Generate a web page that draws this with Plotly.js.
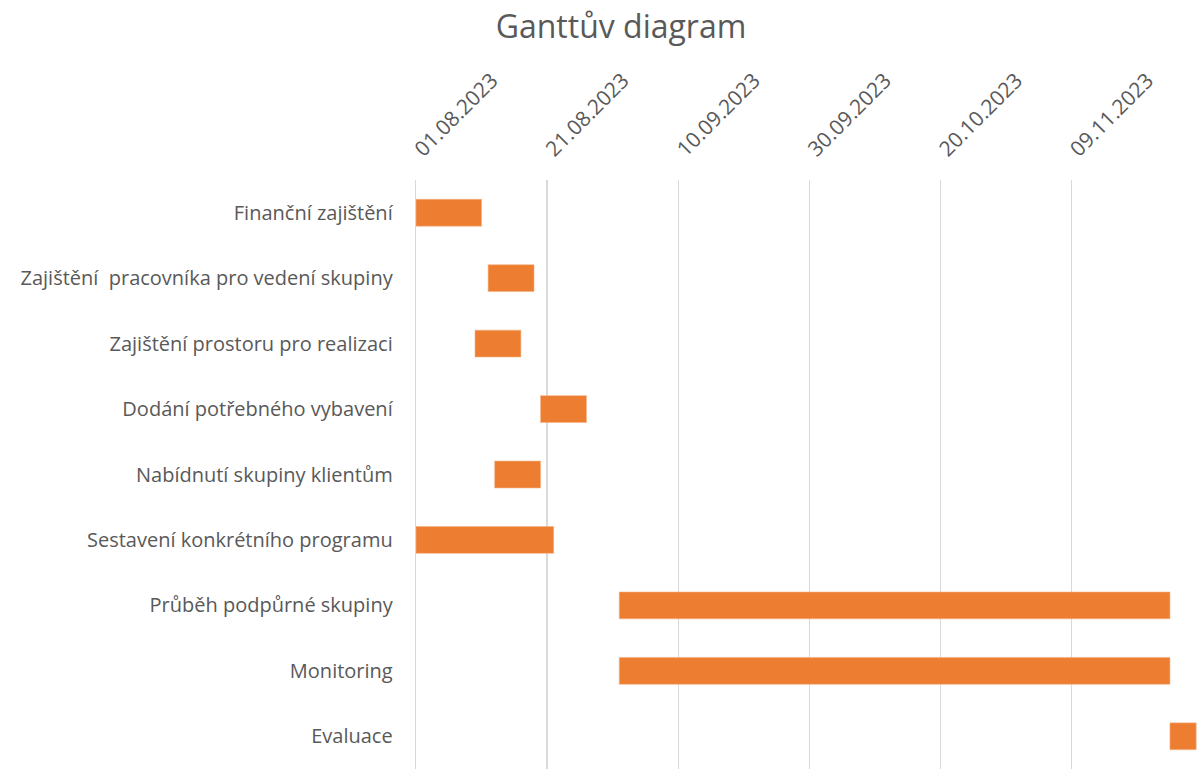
<!DOCTYPE html>
<html>
<head>
<meta charset="utf-8">
<script src="https://cdn.plot.ly/plotly-3.0.1.min.js"></script>
<style>html,body{margin:0;padding:0;background:#fff;}#chart{width:1200px;height:769px;}</style>
</head>
<body>
<div id="chart"></div>
<script>
const tasks = [
  "Finanční zajištění",
  "Zajištění  pracovníka pro vedení skupiny",
  "Zajištění prostoru pro realizaci",
  "Dodání potřebného vybavení",
  "Nabídnutí skupiny klientům",
  "Sestavení konkrétního programu",
  "Průběh podpůrné skupiny",
  "Monitoring",
  "Evaluace"
];
const startDates = ["2023-08-01","2023-08-12","2023-08-10","2023-08-20","2023-08-13","2023-08-01","2023-09-01","2023-09-01","2023-11-24"];
const durationDays = [10, 7, 7, 7, 7, 21, 84, 84, 4];
const tickDates = ["2023-08-01","2023-08-21","2023-09-10","2023-09-30","2023-10-20","2023-11-09"];
const tickLabels = ["01.08.2023","21.08.2023","10.09.2023","30.09.2023","20.10.2023","09.11.2023"];
const axisRange = ["2023-08-01","2023-11-28 03:00"];

const DAY = 86400000;
const FONT = "Open Sans";

Plotly.newPlot("chart", [{
  type: "bar",
  orientation: "h",
  y: tasks,
  base: startDates,
  x: durationDays.map(d => d * DAY),
  width: 0.41,
  marker: {color: "#ED7D31", line: {color: "#F4B183", width: 0.6}},
  hoverinfo: "y"
}], {
  width: 1200, height: 769,
  margin: {l: 416, r: 3, t: 180, b: 0, pad: 0},
  paper_bgcolor: "#ffffff", plot_bgcolor: "#ffffff",
  showlegend: false,
  title: {text: "Ganttův diagram", font: {family: FONT, size: 32, color: "#595959"},
          x: 621/1200, xanchor: "center", xref: "container", y: 1 - 27/769, yanchor: "middle", yref: "container"},
  xaxis: {
    type: "date", side: "top", range: axisRange,
    tickvals: tickDates, ticktext: tickLabels, tickangle: -45,
    tickfont: {family: FONT, size: 21, color: "#595959"},
    ticklabelstandoff: 14,
    showgrid: true, gridcolor: "#d9d9d9", gridwidth: 1.3,
    zeroline: false, showline: false, ticks: "", fixedrange: true
  },
  yaxis: {
    type: "category", autorange: "reversed",
    tickfont: {family: FONT, size: 20, color: "#595959"},
    showgrid: false, zeroline: false, showline: true, linecolor: "#d9d9d9", linewidth: 1.3,
    ticks: "", ticklabelstandoff: 18, fixedrange: true
  }
}, {displayModeBar: false, staticPlot: true});
</script>
</body>
</html>
